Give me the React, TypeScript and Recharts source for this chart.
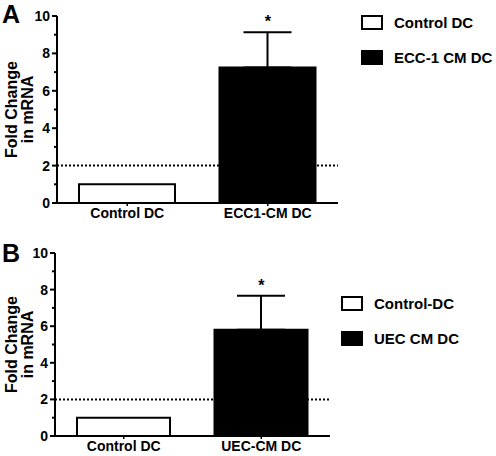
import {
  ComposedChart,
  Bar,
  Cell,
  XAxis,
  YAxis,
  ErrorBar,
  Line,
  ReferenceLine,
  Legend,
} from 'recharts'

// panel A
const categoriesA = ['Control DC', 'ECC1-CM DC']
const valuesA = [1.0, 7.25]
const errorsA = [null, 1.88]
const significantA = [false, true]
const legendA = ['Control DC', 'ECC-1 CM DC']

// panel B
const categoriesB = ['Control DC', 'UEC-CM DC']
const valuesB = [1.0, 5.8]
const errorsB = [null, 1.87]
const significantB = [false, true]
const legendB = ['Control-DC', 'UEC CM DC']

const yTicks = [0, 1, 2, 3, 4, 5, 6, 7, 8, 9, 10]
const threshold = 2
const fills = ['#ffffff', '#000000']

const font = '"Liberation Sans", Arial, sans-serif'

function buildRows(cats: string[], vals: number[], errs: (number | null)[], sig: boolean[]) {
  return cats.map((name, i) => ({
    name,
    value: vals[i],
    err: errs[i] == null ? undefined : [0, errs[i]],
    star: sig[i] ? vals[i] + (errs[i] || 0) : null,
  }))
}

const YTick = (props: any) => {
  const { x, y, payload } = props
  const v = payload.value
  const axisX = x + 6
  const major = v % 2 === 0
  return (
    <g>
      <line x1={axisX - (major ? 5 : 3)} x2={axisX} y1={y} y2={y} stroke="#000" strokeWidth={2} />
      {major && (
        <text x={x - 1} y={y} dy="0.36em" textAnchor="end" fontFamily={font} fontWeight="bold" fontSize={14} fill="#000">
          {v}
        </text>
      )}
    </g>
  )
}

const StarDot = (props: any) => {
  const { cx, cy, value, index } = props
  if (value == null || cy == null) return <g key={index} />
  return (
    <text key={index} x={cx} y={cy - 5} textAnchor="middle" fontFamily={font} fontWeight="bold" fontSize={16} fill="#000">
      *
    </text>
  )
}

const YLabel = (props: any) => {
  const vb = props.viewBox
  const cy = vb.y + vb.height / 2
  return (
    <g fontFamily={font} fontWeight="bold" fontSize={16} fill="#000">
      <text x={17} y={cy} transform={`rotate(-90 17 ${cy})`} textAnchor="middle">Fold Change</text>
      <text x={33} y={cy} transform={`rotate(-90 33 ${cy})`} textAnchor="middle">in mRNA</text>
    </g>
  )
}

type PanelProps = {
  letter: string
  rows: any[]
  legend: string[]
  margin: { top: number; right: number; bottom: number; left: number }
  xHeight: number
  barSize: number
  legendPos: { left: number; top: number }
  letterTop: number
}

function Panel({ letter, rows, legend, margin, xHeight, barSize, legendPos, letterTop }: PanelProps) {
  return (
    <div style={{ position: 'relative', width: 496, height: 228 }}>
      <div
        style={{
          position: 'absolute',
          left: 2,
          top: letterTop,
          fontFamily: font,
          fontWeight: 'bold',
          fontSize: 25,
          lineHeight: '24px',
        }}
      >
        {letter}
      </div>
      <ComposedChart width={496} height={228} data={rows} margin={margin}>
        <XAxis
          dataKey="name"
          height={xHeight}
          axisLine={{ stroke: '#000', strokeWidth: 2 }}
          tickLine={{ stroke: '#000', strokeWidth: 1.5 }}
          tickSize={3}
          tickMargin={2}
          tick={{ fill: '#000', fontFamily: font, fontWeight: 'bold', fontSize: 14 }}
        />
        <YAxis
          domain={[0, 10]}
          ticks={yTicks}
          interval={0}
          width={24}
          axisLine={{ stroke: '#000', strokeWidth: 2 }}
          tickLine={false}
          tickSize={4}
          tickMargin={2}
          tick={<YTick />}
          label={{ content: <YLabel /> }}
        />
        <ReferenceLine y={threshold} stroke="#000" strokeWidth={2} strokeDasharray="2 2" />
        <Bar dataKey="value" barSize={barSize} isAnimationActive={false} stroke="#000" strokeWidth={2}>
          {rows.map((r, i) => (
            <Cell key={r.name} fill={fills[i]} />
          ))}
          <ErrorBar dataKey="err" direction="y" width={24} stroke="#000" strokeWidth={2} isAnimationActive={false} />
        </Bar>
        <Line
          dataKey="star"
          stroke="none"
          dot={<StarDot />}
          activeDot={false}
          legendType="none"
          isAnimationActive={false}
        />
        <Legend
          layout="horizontal"
          verticalAlign="middle"
          align="center"
          wrapperStyle={{ left: legendPos.left, top: legendPos.top, width: 150 }}
          content={() => (
            <div style={{ fontFamily: font, fontWeight: 'bold', fontSize: 15 }}>
              {legend.map((label, i) => (
                <div key={label} style={{ display: 'flex', alignItems: 'center', height: 15, marginBottom: 20 }}>
                  <span
                    style={{
                      display: 'inline-block',
                      boxSizing: 'border-box',
                      width: 22,
                      height: 15,
                      border: '2px solid #000',
                      background: fills[i],
                      marginRight: 11,
                    }}
                  />
                  <span>{label}</span>
                </div>
              ))}
            </div>
          )}
        />
      </ComposedChart>
    </div>
  )
}

export default function App() {
  const rowsA = buildRows(categoriesA, valuesA, errorsA, significantA)
  const rowsB = buildRows(categoriesB, valuesB, errorsB, significantB)
  return (
    <div style={{ position: 'absolute', left: 0, top: 0, width: 496, height: 456, background: '#fff' }}>
      <Panel
        letter="A"
        rows={rowsA}
        legend={legendA}
        margin={{ top: 16, right: 158, bottom: 0, left: 33 }}
        xHeight={25}
        barSize={96}
        legendPos={{ left: 361, top: 15 }}
        letterTop={2}
      />
      <Panel
        letter="B"
        rows={rowsB}
        legend={legendB}
        margin={{ top: 25, right: 166, bottom: 0, left: 31 }}
        xHeight={20}
        barSize={93}
        legendPos={{ left: 341, top: 68 }}
        letterTop={13}
      />
    </div>
  )
}
